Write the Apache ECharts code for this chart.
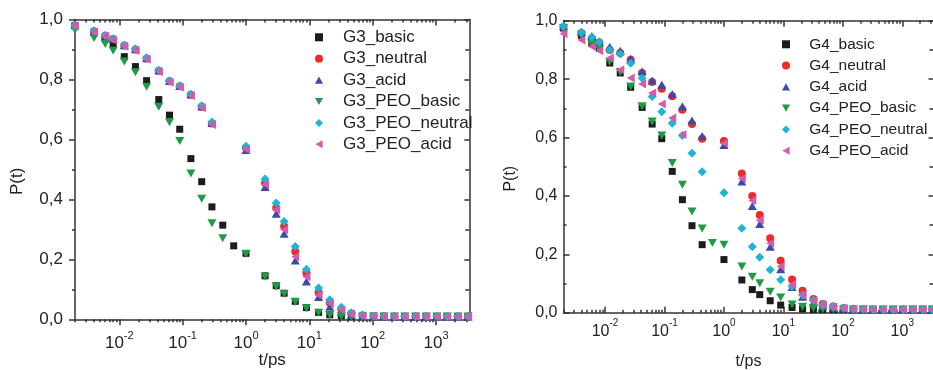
<!DOCTYPE html>
<html>
<head>
<meta charset="utf-8">
<script src="https://cdn.jsdelivr.net/npm/echarts@6/dist/echarts.min.js"></script>
<style>
  html, body { margin: 0; padding: 0; background: #fff; }
  #chart { width: 933px; height: 370px; }
</style>
</head>
<body>
<div id="chart"></div>
<script>
// Correlation time points, t in ps (same sampling for both panels)
const timePs = [0.002, 0.004, 0.006, 0.008, 0.012, 0.018, 0.027, 0.042, 0.062, 0.09, 0.135, 0.2, 0.29, 0.43, 0.64,
  1, 2, 3, 4, 6, 9, 14, 21, 32, 46, 69, 103, 150, 220, 320, 475, 700, 1030, 1500, 2200, 3200];

// G3 panel, P(t); null = no sample at that time
const g3Basic      = [0.98, 0.955, 0.935, 0.916, 0.876, 0.843, 0.796, 0.733, 0.681, 0.634, 0.536, 0.459, 0.375, 0.314, 0.245,
  0.22, 0.145, 0.112, 0.087, 0.06, 0.039, 0.023, 0.015, 0.011, 0.01, 0.009, 0.009, 0.009, 0.009, 0.009, 0.009, 0.009, 0.009, 0.009, 0.009, 0.009];
const g3Neutral    = [0.98, 0.961, 0.946, 0.935, 0.913, 0.9, 0.87, 0.829, 0.794, 0.777, 0.749, 0.709, 0.653, null, null,
  0.572, 0.455, 0.371, 0.31, 0.226, 0.154, 0.089, 0.055, 0.033, 0.019, 0.013, 0.011, 0.01, 0.009, 0.009, 0.009, 0.009, 0.009, 0.009, 0.009, 0.009];
const g3Acid       = [0.981, 0.962, 0.947, 0.936, 0.914, 0.901, 0.871, 0.83, 0.795, 0.778, 0.75, 0.71, 0.655, null, null,
  0.565, 0.441, 0.352, 0.285, 0.196, 0.126, 0.074, 0.042, 0.025, 0.014, 0.011, 0.01, 0.009, 0.009, 0.009, 0.009, 0.009, 0.009, 0.009, 0.009, 0.009];
const g3PeoBasic   = [0.965, 0.938, 0.918, 0.896, 0.86, 0.824, 0.776, 0.709, 0.657, 0.595, 0.486, 0.402, 0.32, 0.27, null,
  0.218, 0.142, 0.109, 0.084, 0.058, 0.037, 0.022, 0.014, 0.01, 0.009, 0.009, 0.009, 0.009, 0.009, 0.009, 0.009, 0.009, 0.009, 0.009, 0.009, 0.009];
const g3PeoNeutral = [0.98, 0.962, 0.947, 0.936, 0.914, 0.902, 0.872, 0.831, 0.796, 0.779, 0.751, 0.712, 0.658, null, null,
  0.577, 0.468, 0.388, 0.326, 0.243, 0.167, 0.104, 0.065, 0.04, 0.022, 0.014, 0.011, 0.01, 0.009, 0.009, 0.009, 0.009, 0.009, 0.009, 0.009, 0.009];
const g3PeoAcid    = [0.978, 0.958, 0.944, 0.932, 0.911, 0.897, 0.867, 0.826, 0.791, 0.774, 0.746, 0.706, 0.65, null, null,
  0.566, 0.449, 0.365, 0.299, 0.209, 0.142, 0.081, 0.053, 0.031, 0.017, 0.012, 0.01, 0.009, 0.009, 0.009, 0.009, 0.009, 0.009, 0.009, 0.009, 0.009];

// G4 panel, P(t)
const g4Basic      = [0.975, 0.95, 0.922, 0.905, 0.855, 0.821, 0.772, 0.703, 0.646, 0.596, 0.484, 0.387, 0.298, 0.233, null,
  0.182, 0.112, 0.079, 0.062, 0.041, 0.026, 0.018, 0.013, 0.011, 0.011, 0.011, 0.011, 0.011, 0.011, 0.011, 0.011, 0.011, 0.011, 0.011, 0.011, 0.011];
const g4Neutral    = [0.978, 0.958, 0.94, 0.925, 0.9, 0.889, 0.866, 0.821, 0.79, 0.767, 0.741, 0.695, 0.646, 0.596, null,
  0.588, 0.477, 0.4, 0.335, 0.255, 0.178, 0.114, 0.075, 0.047, 0.03, 0.021, 0.016, 0.013, 0.012, 0.011, 0.011, 0.011, 0.011, 0.011, 0.011, 0.011];
const g4Acid       = [0.981, 0.962, 0.948, 0.93, 0.911, 0.897, 0.87, 0.827, 0.795, 0.781, 0.749, 0.707, 0.658, 0.605, null,
  0.574, 0.449, 0.365, 0.304, 0.226, 0.149, 0.088, 0.055, 0.035, 0.024, 0.018, 0.014, 0.012, 0.011, 0.011, 0.011, 0.011, 0.011, 0.011, 0.011, 0.011];
const g4PeoBasic   = [0.975, 0.95, 0.92, 0.902, 0.859, 0.824, 0.775, 0.707, 0.655, 0.607, 0.513, 0.438, 0.347, 0.288, 0.239,
  0.233, 0.158, 0.123, 0.101, 0.072, 0.052, 0.028, 0.02, 0.015, 0.012, 0.011, 0.011, 0.011, 0.011, 0.011, 0.011, 0.011, 0.011, 0.011, 0.011, 0.011];
const g4PeoNeutral = [0.981, 0.96, 0.943, 0.926, 0.9, 0.886, 0.854, 0.803, 0.74, 0.688, 0.649, 0.607, 0.546, 0.483, null,
  0.411, 0.289, 0.226, 0.19, 0.147, 0.113, 0.09, 0.061, 0.043, 0.027, 0.021, 0.016, 0.013, 0.012, 0.011, 0.011, 0.011, 0.011, 0.011, 0.011, 0.011];
const g4PeoAcid    = [0.955, 0.934, 0.912, 0.897, 0.872, 0.832, 0.804, 0.783, 0.752, 0.715, 0.667, 0.61, null, null, null,
  0.58, 0.46, 0.384, 0.317, 0.238, 0.158, 0.097, 0.06, 0.04, 0.027, 0.019, 0.015, 0.013, 0.012, 0.011, 0.011, 0.011, 0.011, 0.011, 0.011, 0.011];

const g3Names = ['G3_basic', 'G3_neutral', 'G3_acid', 'G3_PEO_basic', 'G3_PEO_neutral', 'G3_PEO_acid'];
const g4Names = ['G4_basic', 'G4_neutral', 'G4_acid', 'G4_PEO_basic', 'G4_PEO_neutral', 'G4_PEO_acid'];
const majorTimeTicks = [0.01, 0.1, 1, 10, 100, 1000];
const pTickStep = 0.2;

const T_MIN = 0.002, T_MAX = 3350;
const FONT = '"Liberation Sans", Arial, sans-serif';
const AXIS_COLOR = '#333';
const TEXT_COLOR = '#222';

// marker look per series position: square, circle, up-triangle, down-triangle, diamond, left-triangle
const markers = [
  { symbol: 'rect',     size: 7,      rotate: 0,   color: '#1c1c1c', icon: 'rect' },
  { symbol: 'circle',   size: 8,      rotate: 0,   color: '#ee2b2b', icon: 'circle' },
  { symbol: 'triangle', size: [9, 8], rotate: 0,   color: '#3b4aa6', icon: 'path://M5,0L10,9L0,9Z' },
  { symbol: 'triangle', size: [9, 8], rotate: 180, color: '#1f9b45', icon: 'path://M0,0L10,0L5,9Z' },
  { symbol: 'diamond',  size: 9,      rotate: 0,   color: '#1fb3d6', icon: 'diamond' },
  { symbol: 'triangle', size: [9, 8], rotate: 90,  color: '#d45aab', icon: 'path://M0,5L9,0L9,10Z' }
];

// minor ticks at 2..9 within each decade
const minorTimeTicks = [];
for (let d = -3; d <= 3; d++) {
  for (let m = 2; m <= 9; m++) {
    const v = +(m * Math.pow(10, d)).toPrecision(3);
    if (v >= T_MIN && v <= T_MAX) minorTimeTicks.push(v);
  }
}

const lineStyle = { color: AXIS_COLOR, width: 1.5 };

function timeAxes(gridIndex, outward, fontSize, labelMargin, nameGap) {
  const base = { gridIndex, type: 'log', logBase: 10, min: T_MIN, max: T_MAX, splitLine: { show: false } };
  return [
    Object.assign({}, base, {
      position: 'bottom',
      axisLine: { show: true, lineStyle },
      axisTick: { show: true, inside: !outward, length: 6, lineStyle, customValues: majorTimeTicks },
      axisLabel: {
        show: true, margin: labelMargin, customValues: majorTimeTicks,
        formatter: v => '{b|10}{s|' + Math.round(Math.log10(v)) + '}',
        rich: {
          b: { fontSize: fontSize, lineHeight: 26, fontFamily: FONT, color: TEXT_COLOR },
          s: { fontSize: Math.round(fontSize * 0.65), verticalAlign: 'top', fontFamily: FONT, color: TEXT_COLOR }
        }
      },
      name: 't/ps', nameLocation: 'middle', nameGap: nameGap, nameMoveOverlap: false,
      nameTextStyle: { fontSize: fontSize, fontFamily: FONT, color: TEXT_COLOR }
    }),
    Object.assign({}, base, {
      position: 'bottom',
      axisLine: { show: false },
      axisTick: { show: true, inside: !outward, length: 3, lineStyle, customValues: minorTimeTicks },
      axisLabel: { show: false }
    }),
    Object.assign({}, base, {
      position: 'top',
      axisLine: { show: true, lineStyle },
      axisTick: { show: true, inside: true, length: 6, lineStyle, customValues: majorTimeTicks },
      axisLabel: { show: false }
    }),
    Object.assign({}, base, {
      position: 'top',
      axisLine: { show: false },
      axisTick: { show: true, inside: true, length: 3, lineStyle, customValues: minorTimeTicks },
      axisLabel: { show: false }
    })
  ];
}

function pAxes(gridIndex, outward, fontSize, labelMargin, nameGap) {
  const base = { gridIndex, type: 'value', min: 0, max: 1, interval: pTickStep, splitLine: { show: false } };
  return [
    Object.assign({}, base, {
      position: 'left',
      axisLine: { show: true, lineStyle },
      axisTick: { show: true, inside: !outward, length: 6, lineStyle },
      minorTick: { show: true, splitNumber: 2, length: 3, lineStyle },
      axisLabel: {
        margin: labelMargin, fontSize: fontSize, fontFamily: FONT, color: TEXT_COLOR,
        formatter: v => v.toFixed(1).replace('.', ',')
      },
      name: 'P(t)', nameLocation: 'middle', nameGap: nameGap, nameMoveOverlap: false,
      nameTextStyle: { fontSize: fontSize, fontFamily: FONT, color: TEXT_COLOR, padding: [0, 24, 0, 0] }
    }),
    Object.assign({}, base, {
      position: 'right',
      axisLine: { show: true, lineStyle },
      axisTick: { show: true, inside: true, length: 5, lineStyle },
      minorTick: { show: true, splitNumber: 2, length: 4, lineStyle },
      axisLabel: { show: false }
    })
  ];
}

function makeSeries(names, valueSets, xAxisIndex, yAxisIndex) {
  return names.map((name, k) => ({
    name,
    type: 'scatter',
    xAxisIndex, yAxisIndex,
    symbol: markers[k].symbol,
    symbolSize: markers[k].size,
    symbolRotate: markers[k].rotate,
    itemStyle: { color: markers[k].color, opacity: 1 },
    emphasis: { disabled: true },
    data: timePs.map((t, i) => valueSets[k][i] == null ? null : [t, valueSets[k][i]]).filter(Boolean)
  }));
}

function legendFor(names, left, top, fontSize, pitch, textOffset) {
  return {
    data: names.map((name, k) => ({ name, icon: markers[k].icon })),
    orient: 'vertical', left, top, padding: 0,
    itemWidth: 8, itemHeight: 8, itemGap: pitch - fontSize,
    selectedMode: false,
    textStyle: { fontSize, lineHeight: fontSize, fontFamily: FONT, color: TEXT_COLOR, padding: [0, 0, 0, textOffset] }
  };
}

const chart = echarts.init(document.getElementById('chart'), null, { renderer: 'canvas' });
chart.setOption({
  animation: false,
  backgroundColor: '#fff',
  grid: [
    { left: 75, right: 463.7, top: 19.5, bottom: 50.7, outerBoundsMode: 'none' },
    { left: 563.5, right: -0.5, top: 20.7, bottom: 57.3, outerBoundsMode: 'none' }
  ],
  xAxis: [].concat(
    timeAxes(0, true, 17, 11, 33),
    timeAxes(1, false, 16, 6, 41)
  ),
  yAxis: [].concat(
    pAxes(0, true, 17, 12, 49),
    pAxes(1, false, 16, 6, 45)
  ),
  legend: [
    legendFor(g3Names, 315, 28.8, 17, 21.4, 15),
    legendFor(g4Names, 782, 36.3, 15.5, 20.8, 14.3)
  ],
  series: [].concat(
    makeSeries(g3Names, [g3Basic, g3Neutral, g3Acid, g3PeoBasic, g3PeoNeutral, g3PeoAcid], 0, 0),
    makeSeries(g4Names, [g4Basic, g4Neutral, g4Acid, g4PeoBasic, g4PeoNeutral, g4PeoAcid], 4, 2)
  )
});
</script>
</body>
</html>
